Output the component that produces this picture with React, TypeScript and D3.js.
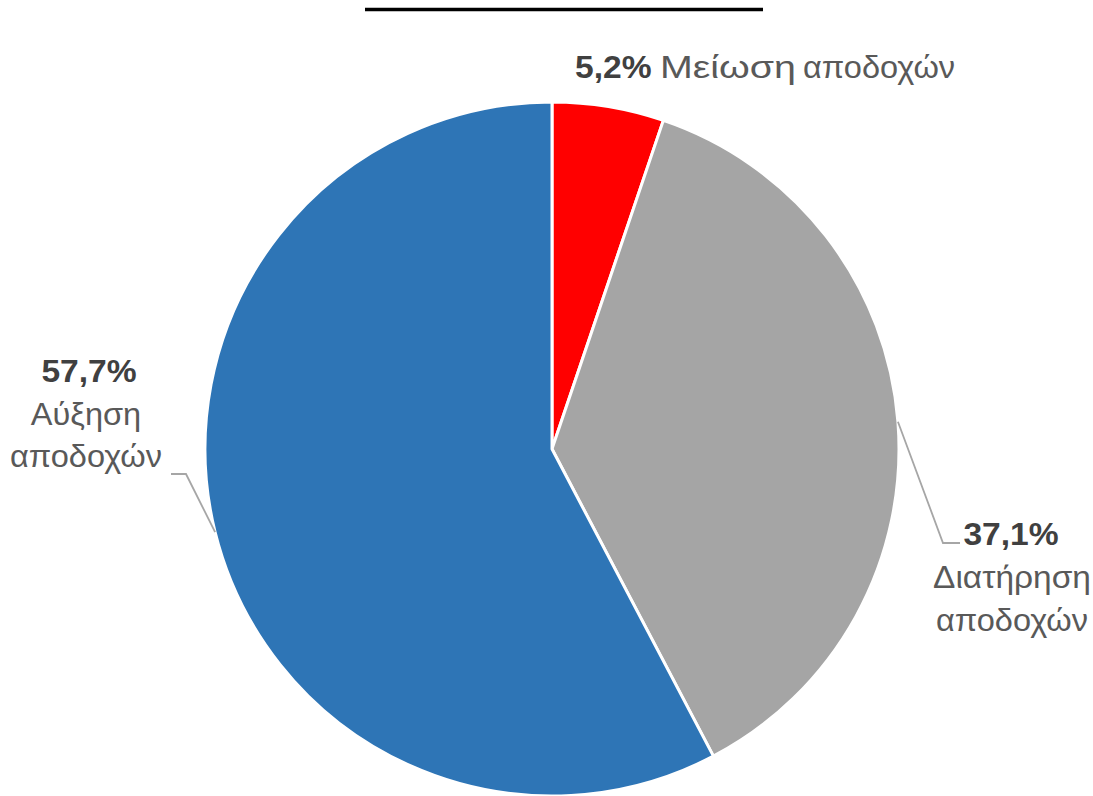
import React from "react";
import * as d3 from "d3";

const categories = ["Μείωση αποδοχών", "Διατήρηση αποδοχών", "Αύξηση αποδοχών"];
const values = [5.2, 37.1, 57.7];
const valueLabels = ["5,2%", "37,1%", "57,7%"];
const colors = ["#FF0000", "#A5A5A5", "#2E75B6"];

const W = 1093;
const H = 796;
const cx = 552;
const cy = 449;
const R = 347;
const FONT = "'Liberation Sans', Arial, sans-serif";
const FS = 31;
const FSB = 32;
const SX = 1.05;

export default function App() {
  const pie = d3.pie<number>().sort(null).value((d) => d)(values);
  const arc = d3.arc<d3.PieArcDatum<number>>().innerRadius(0).outerRadius(R);
  const mid = (a: d3.PieArcDatum<number>) => (a.startAngle + a.endAngle) / 2;
  const edge = (a: d3.PieArcDatum<number>) => {
    const m = mid(a);
    return [cx + R * Math.sin(m), cy - R * Math.cos(m)];
  };
  const [gx, gy] = edge(pie[1]);
  const [bx, by] = edge(pie[2]);

  const txt = (x: number, y: number, children: React.ReactNode, anchor = "middle", sx = SX) => (
    <g transform={`translate(${x},${y}) scale(${sx},1)`}>
      <text x={0} y={0} textAnchor={anchor} fontFamily={FONT} fontSize={FS} fill="#595959">
        {children}
      </text>
    </g>
  );

  const topWords = categories[0].split(" ");

  return (
    <svg width={W} height={H} style={{ position: "absolute", left: 0, top: 0 }}>
      <rect width={W} height={H} fill="#fff" />
      <line x1={365} x2={763} y1={9.5} y2={9.5} stroke="#000" strokeWidth={3.5} />
      <g transform={`translate(${cx},${cy})`}>
        {pie.map((p, i) => (
          <path key={categories[i]} d={arc(p) || ""} fill={colors[i]} stroke="#fff" strokeWidth={3} strokeLinejoin="round" />
        ))}
      </g>
      {/* leader lines */}
      <polyline points={`${gx},${gy} 943,543 960,543`} fill="none" stroke="#A6A6A6" strokeWidth={1.8} />
      <polyline points={`${bx},${by} 186,474 171,474`} fill="none" stroke="#A6A6A6" strokeWidth={1.8} />

      {txt(575, 78, <tspan fontWeight="bold" fontSize={FSB} fill="#404040">{valueLabels[0]}</tspan>, "start")}
      {txt(660, 78, topWords[0], "start", 1.27)}
      {txt(803, 78, topWords[1], "start", 1.05)}

      {txt(1011, 545, <tspan fontWeight="bold" fontSize={FSB} fill="#404040">{valueLabels[1]}</tspan>)}
      {txt(1012, 588, categories[1].split(" ")[0], "middle", 1.08)}
      {txt(1012, 631, categories[1].split(" ")[1])}

      {txt(89, 382, <tspan fontWeight="bold" fontSize={FSB} fill="#404040">{valueLabels[2]}</tspan>)}
      {txt(86, 425, categories[2].split(" ")[0])}
      {txt(86, 467, categories[2].split(" ")[1])}
    </svg>
  );
}
